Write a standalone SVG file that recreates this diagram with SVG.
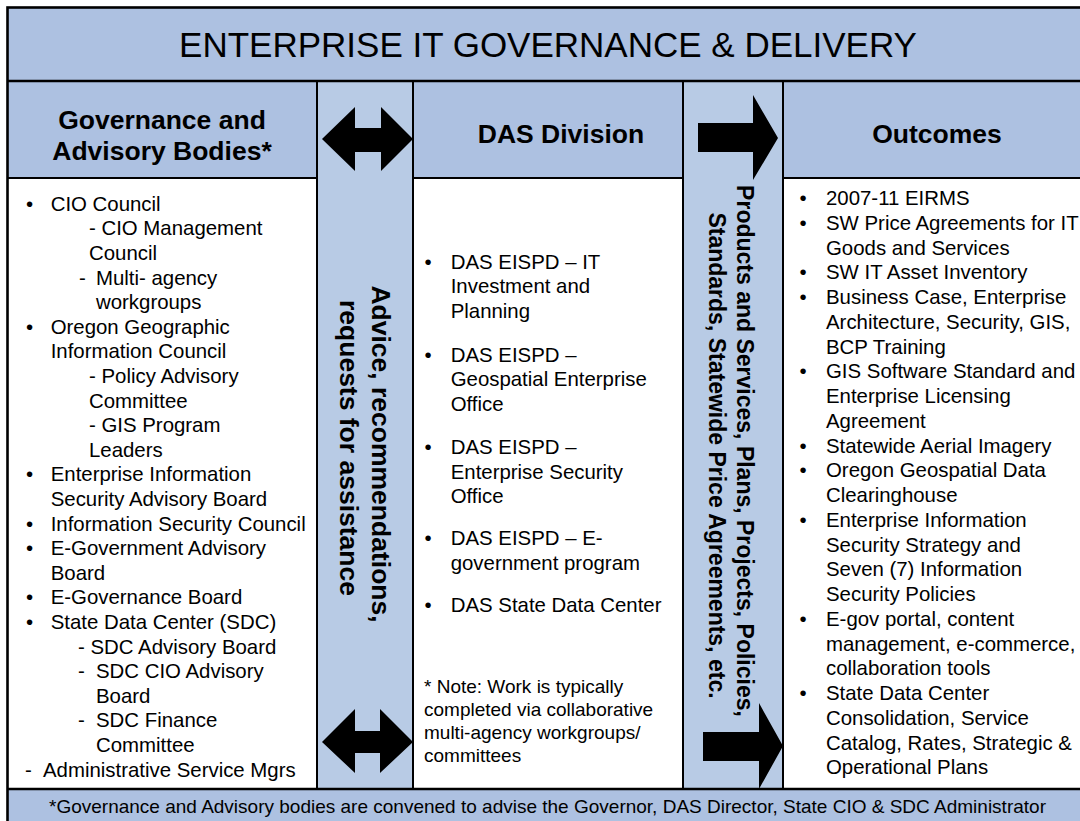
<svg xmlns="http://www.w3.org/2000/svg" width="1080" height="821" viewBox="0 0 1080 821">
  <defs>
    <style>
      .hdr { fill: #adc1e1; }
      .lane { fill: #b8cbe5; }
      .body { fill: #ffffff; }
      .rule { stroke: #000; stroke-width: 2; fill: none; }
      .heavy { stroke: #000; stroke-width: 2.6; fill: none; }
      .t { font-family: "Liberation Sans", Arial, sans-serif; font-size: 20.4px; fill: #000; }
      .note { font-family: "Liberation Sans", Arial, sans-serif; font-size: 19px; fill: #000; }
      .title { font-family: "Liberation Sans", Arial, sans-serif; font-size: 35px; fill: #000; }
      .head { font-family: "Liberation Sans", Arial, sans-serif; font-size: 26.5px; font-weight: bold; fill: #000; }
      .vert { font-family: "Liberation Sans", Arial, sans-serif; font-weight: bold; fill: #000; }
      .arrow { fill: #000; }
    </style>
  </defs>

  <rect width="1080" height="821" fill="#ffffff"/>

  <!-- title band -->
  <g id="title">
    <rect class="hdr" x="7" y="7" width="1090" height="74"/>
    <text class="title" x="548" y="57" text-anchor="middle">ENTERPRISE IT GOVERNANCE &amp; DELIVERY</text>
  </g>

  <!-- governance and advisory bodies -->
  <g id="governance">
    <rect class="hdr" x="7" y="81" width="310" height="97"/>
    <rect class="body" x="7" y="178" width="310" height="611"/>
    <text class="head" x="162" y="129" text-anchor="middle">Governance and</text>
    <text class="head" x="162" y="160" text-anchor="middle">Advisory Bodies*</text>
    <g class="t">
      <text x="29.5" y="210.7" text-anchor="middle">•</text><text x="50.7" y="210.7">CIO Council</text>
      <text x="89" y="235.3">- CIO Management</text>
      <text x="89" y="259.9">Council</text>
      <text x="79" y="284.5">-</text><text x="96" y="284.5">Multi- agency</text>
      <text x="96" y="309.1">workgroups</text>
      <text x="29.5" y="333.7" text-anchor="middle">•</text><text x="50.7" y="333.7">Oregon Geographic</text>
      <text x="50.7" y="358.3">Information Council</text>
      <text x="89" y="382.9">- Policy Advisory</text>
      <text x="89" y="407.5">Committee</text>
      <text x="89" y="432.1">- GIS Program</text>
      <text x="89" y="456.7">Leaders</text>
      <text x="29.5" y="481.3" text-anchor="middle">•</text><text x="50.7" y="481.3">Enterprise Information</text>
      <text x="50.7" y="505.9">Security Advisory Board</text>
      <text x="29.5" y="530.5" text-anchor="middle">•</text><text x="50.7" y="530.5">Information Security Council</text>
      <text x="29.5" y="555.1" text-anchor="middle">•</text><text x="50.7" y="555.1">E-Government Advisory</text>
      <text x="50.7" y="579.7">Board</text>
      <text x="29.5" y="604.3" text-anchor="middle">•</text><text x="50.7" y="604.3">E-Governance Board</text>
      <text x="29.5" y="628.9" text-anchor="middle">•</text><text x="50.7" y="628.9">State Data Center (SDC)</text>
      <text x="78" y="653.5">- SDC Advisory Board</text>
      <text x="78" y="678.1">-</text><text x="96" y="678.1">SDC CIO Advisory</text>
      <text x="96" y="702.7">Board</text>
      <text x="78" y="727.3">-</text><text x="96" y="727.3">SDC Finance</text>
      <text x="96" y="751.9">Committee</text>
      <text x="25" y="776.5">-</text><text x="43" y="776.5">Administrative Service Mgrs</text>
    </g>
  </g>

  <!-- advice lane -->
  <g id="advice">
    <rect class="lane" x="317" y="81" width="96" height="708"/>
    <text class="vert" font-size="26.5" transform="translate(372 454) rotate(90)" text-anchor="middle">Advice, recommendations,</text>
    <text class="vert" font-size="26.5" transform="translate(340 448) rotate(90)" text-anchor="middle">requests for assistance</text>
  </g>

  <!-- DAS division -->
  <g id="das-division">
    <rect class="hdr" x="413" y="81" width="270" height="97"/>
    <rect class="body" x="413" y="178" width="270" height="611"/>
    <text class="head" x="561" y="143" text-anchor="middle">DAS Division</text>
    <g class="t">
      <text x="428" y="268.5" text-anchor="middle">•</text><text x="450.7" y="268.5">DAS EISPD – IT</text>
      <text x="450.7" y="293">Investment and</text>
      <text x="450.7" y="317.5">Planning</text>
      <text x="428" y="361.5" text-anchor="middle">•</text><text x="450.7" y="361.5">DAS EISPD –</text>
      <text x="450.7" y="386">Geospatial Enterprise</text>
      <text x="450.7" y="410.5">Office</text>
      <text x="428" y="454" text-anchor="middle">•</text><text x="450.7" y="454">DAS EISPD –</text>
      <text x="450.7" y="478.5">Enterprise Security</text>
      <text x="450.7" y="503">Office</text>
      <text x="428" y="545" text-anchor="middle">•</text><text x="450.7" y="545">DAS EISPD – E-</text>
      <text x="450.7" y="569.5">government program</text>
      <text x="428" y="612" text-anchor="middle">•</text><text x="450.7" y="612">DAS State Data Center</text>
    </g>
    <g class="note">
      <text x="424" y="692.7">* Note: Work is typically</text>
      <text x="424" y="716">completed via collaborative</text>
      <text x="424" y="739.3">multi-agency workgroups/</text>
      <text x="424" y="762">committees</text>
    </g>
  </g>

  <!-- products lane -->
  <g id="products">
    <rect class="lane" x="683" y="81" width="100" height="708"/>
    <text class="vert" font-size="23" transform="translate(737 451) rotate(90)" text-anchor="middle">Products and Services, Plans, Projects, Policies,</text>
    <text class="vert" font-size="23" transform="translate(708.5 455.5) rotate(90)" text-anchor="middle">Standards, Statewide Price Agreements, etc.</text>
  </g>

  <!-- outcomes -->
  <g id="outcomes">
    <rect class="hdr" x="783" y="81" width="310" height="97"/>
    <rect class="body" x="783" y="178" width="310" height="611"/>
    <text class="head" x="937" y="143" text-anchor="middle">Outcomes</text>
    <g class="t">
      <text x="803" y="205" text-anchor="middle">•</text><text x="826" y="205">2007-11 EIRMS</text>
      <text x="803" y="229.75" text-anchor="middle">•</text><text x="826" y="229.75">SW Price Agreements for IT</text>
      <text x="826" y="254.5">Goods and Services</text>
      <text x="803" y="279.25" text-anchor="middle">•</text><text x="826" y="279.25">SW IT Asset Inventory</text>
      <text x="803" y="304" text-anchor="middle">•</text><text x="826" y="304">Business Case, Enterprise</text>
      <text x="826" y="328.75">Architecture, Security, GIS,</text>
      <text x="826" y="353.5">BCP Training</text>
      <text x="803" y="378.25" text-anchor="middle">•</text><text x="826" y="378.25">GIS Software Standard and</text>
      <text x="826" y="403">Enterprise Licensing</text>
      <text x="826" y="427.75">Agreement</text>
      <text x="803" y="452.5" text-anchor="middle">•</text><text x="826" y="452.5">Statewide Aerial Imagery</text>
      <text x="803" y="477.25" text-anchor="middle">•</text><text x="826" y="477.25">Oregon Geospatial Data</text>
      <text x="826" y="502">Clearinghouse</text>
      <text x="803" y="526.75" text-anchor="middle">•</text><text x="826" y="526.75">Enterprise Information</text>
      <text x="826" y="551.5">Security Strategy and</text>
      <text x="826" y="576.25">Seven (7) Information</text>
      <text x="826" y="601">Security Policies</text>
      <text x="803" y="625.75" text-anchor="middle">•</text><text x="826" y="625.75">E-gov portal, content</text>
      <text x="826" y="650.5">management, e-commerce,</text>
      <text x="826" y="675.25">collaboration tools</text>
      <text x="803" y="700" text-anchor="middle">•</text><text x="826" y="700">State Data Center</text>
      <text x="826" y="724.75">Consolidation, Service</text>
      <text x="826" y="749.5">Catalog, Rates, Strategic &amp;</text>
      <text x="826" y="774.25">Operational Plans</text>
    </g>
  </g>

  <!-- footnote banner -->
  <g id="footnote">
    <rect class="hdr" x="7" y="789" width="1090" height="40"/>
    <text class="note" x="547.5" y="813" text-anchor="middle">*Governance and Advisory bodies are convened to advise the Governor, DAS Director, State CIO &amp; SDC Administrator</text>
  </g>

  <!-- grid rules -->
  <g id="rules">
    <line class="heavy" x1="7" y1="81" x2="1090" y2="81"/>
    <line class="heavy" x1="7" y1="789" x2="1090" y2="789"/>
    <line class="rule" x1="7" y1="178" x2="317" y2="178"/>
    <line class="rule" x1="413" y1="178" x2="683" y2="178"/>
    <line class="rule" x1="783" y1="178" x2="1090" y2="178"/>
    <line class="rule" x1="317" y1="81" x2="317" y2="789"/>
    <line class="rule" x1="413" y1="81" x2="413" y2="789"/>
    <line class="rule" x1="683" y1="81" x2="683" y2="789"/>
    <line class="rule" x1="783" y1="81" x2="783" y2="789"/>
    <rect class="heavy" x="7.5" y="7.5" width="1090" height="830"/>
  </g>

  <!-- connectors -->
  <g id="connectors">
    <polygon class="arrow" points="322,139 355,107 355,128 381,128 381,107 413,139 381,171 381,152 355,152 355,171"/>
    <polygon class="arrow" points="322,742 355,709 355,731 380,731 380,709 413,742 380,773 380,753 355,753 355,773"/>
    <polygon class="arrow" points="698,123 753,123 753,95 778,138 753,180 753,152 698,152"/>
    <polygon class="arrow" points="703,732 759,732 759,703 783,746 759,789 759,761 703,761"/>
  </g>
</svg>
